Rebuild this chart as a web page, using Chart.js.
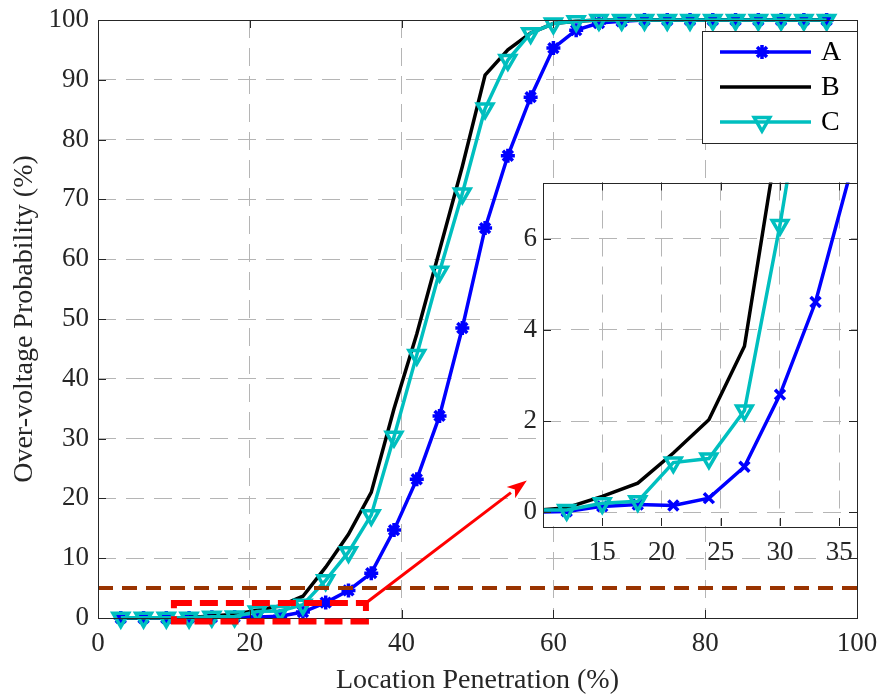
<!DOCTYPE html>
<html>
<head>
<meta charset="utf-8">
<script src="https://cdn.jsdelivr.net/npm/chart.js@4.4.0/dist/chart.umd.min.js"></script>
<style>
    html, body { margin: 0; padding: 0; background: #fff; }
    #wrap { position: relative; width: 879px; height: 697px; overflow: hidden; }
    #mainChart { position: absolute; left: 0; top: 0; }
    #insetChart { position: absolute; left: 500px; top: 170px; }
</style>
</head>
<body>
<div id="wrap">
    <canvas id="mainChart" width="879" height="697"></canvas>
    <canvas id="insetChart" width="370" height="400"></canvas>
</div>
<script>
// Location penetration (%) sampled every 3 %
const penetration = [3, 6, 9, 12, 15, 18, 21, 24, 27, 30, 33, 36, 39, 42, 45, 48,
                     51, 54, 57, 60, 63, 66, 69, 72, 75, 78, 81, 84, 87, 90, 93, 96];

// Over-voltage probability (%)
const probA = [0, 0, 0, 0.02, 0.13, 0.17, 0.15, 0.31, 1.0, 2.58, 4.61, 7.5, 14.7, 23.2, 33.8, 48.5,
               65.2, 77.3, 87.1, 95.3, 98.3, 99.5, 99.8, 100, 100, 100, 100, 100, 100, 100, 100, 100];
const probB = [0, 0, 0.03, 0.1, 0.35, 0.64, 1.3, 2.03, 3.64, 8.5, 14, 21, 35, 47.5, 61.5, 75.5,
               90.8, 95, 97.8, 99.4, 99.8, 100, 100, 100, 100, 100, 100, 100, 100, 100, 100, 100];
const probC = [0.05, 0.05, 0.05, 0.05, 0.2, 0.24, 1.09, 1.18, 2.23, 6.3, 11, 17.2, 30.3, 44, 57.9, 71,
               85.2, 93.3, 97.8, 99.4, 99.8, 100, 100, 100, 100, 100, 100, 100, 100, 100, 100, 100];

const threshold = 5;

const mainXTicks = [0, 20, 40, 60, 80, 100];
const mainYTicks = [0, 10, 20, 30, 40, 50, 60, 70, 80, 90, 100];
const insetXTicks = [15, 20, 25, 30, 35];
const insetYTicks = [0, 2, 4, 6];

// zoom annotation (data units)
const zoomBox = { x0: 10, x1: 35.3, y0: -0.6, y1: 2.5 };
const arrowTip = { x: 56.5, y: 23 };

const BLUE = '#0000ff';
const BLACK = '#000000';
const CYAN = '#00bfbf';
const BROWN = '#993300';
const RED = '#ff0000';
const AXIS = '#262626';
const GRID = '#b5b5b5';
const FONT = "'Liberation Serif', 'Times New Roman', serif";

const pts = (ys) => penetration.map((x, i) => ({ x: x, y: ys[i] }));

// fixed axis sizes, no extra room for the end labels
const fitX = (h) => (s) => { s.height = h; s.paddingLeft = 0; s.paddingRight = 0; };
const fitY = (w) => (s) => { s.width = w; s.paddingTop = 0; s.paddingBottom = 0; };

// white plot background, box and inward ticks like matlab
const boxPlugin = {
    id: 'mbox',
    beforeDraw(chart, args, opts) {
        if (!opts.fill) return;
        const a = chart.chartArea, ctx = chart.ctx;
        ctx.save();
        ctx.fillStyle = '#fff';
        ctx.fillRect(a.left, a.top, a.right - a.left, a.bottom - a.top);
        ctx.restore();
    },
    afterDatasetsDraw(chart) {
        const a = chart.chartArea, ctx = chart.ctx;
        const tl = 8;
        ctx.save();
        ctx.strokeStyle = AXIS;
        ctx.lineWidth = 1;
        ctx.setLineDash([]);
        ctx.beginPath();
        chart.scales.x.ticks.forEach(t => {
            const px = Math.round(chart.scales.x.getPixelForValue(t.value)) + 0.5;
            ctx.moveTo(px, a.bottom); ctx.lineTo(px, a.bottom - tl);
            ctx.moveTo(px, a.top); ctx.lineTo(px, a.top + tl);
        });
        chart.scales.y.ticks.forEach(t => {
            const py = Math.round(chart.scales.y.getPixelForValue(t.value)) + 0.5;
            ctx.moveTo(a.left, py); ctx.lineTo(a.left + tl, py);
            ctx.moveTo(a.right, py); ctx.lineTo(a.right - tl, py);
        });
        ctx.stroke();
        ctx.strokeRect(Math.round(a.left) + 0.5, Math.round(a.top) + 0.5,
                       Math.round(a.right - a.left), Math.round(a.bottom - a.top));
        ctx.restore();
    }
};

// red dashed zoom box and arrow pointing at the inset
const zoomPlugin = {
    id: 'zoomMark',
    afterDatasetsDraw(chart) {
        const ctx = chart.ctx, sx = chart.scales.x, sy = chart.scales.y;
        const x0 = sx.getPixelForValue(zoomBox.x0), x1 = sx.getPixelForValue(zoomBox.x1);
        const y0 = sy.getPixelForValue(zoomBox.y0), y1 = sy.getPixelForValue(zoomBox.y1);
        const tx = sx.getPixelForValue(arrowTip.x), ty = sy.getPixelForValue(arrowTip.y);
        ctx.save();
        ctx.strokeStyle = RED;
        ctx.lineWidth = 6;
        ctx.setLineDash([18, 8]);
        ctx.strokeRect(x0, y1, x1 - x0, y0 - y1);
        ctx.setLineDash([]);
        ctx.lineWidth = 3;
        const ang = Math.atan2(ty - y1, tx - x1);
        const hl = 20;
        const bx = tx - hl * Math.cos(ang), by = ty - hl * Math.sin(ang);
        ctx.beginPath();
        ctx.moveTo(x1, y1);
        ctx.lineTo(bx, by);
        ctx.stroke();
        ctx.fillStyle = RED;
        ctx.beginPath();
        ctx.moveTo(tx, ty);
        ctx.lineTo(bx + 7 * Math.sin(ang), by - 7 * Math.cos(ang));
        ctx.lineTo(tx - 0.75 * hl * Math.cos(ang), ty - 0.75 * hl * Math.sin(ang));
        ctx.lineTo(bx - 7 * Math.sin(ang), by + 7 * Math.cos(ang));
        ctx.closePath();
        ctx.fill();
        ctx.restore();
    }
};

const legendPlugin = {
    id: 'boxLegend',
    afterDraw(chart) {
        const ctx = chart.ctx;
        const L = 702, T = 31, W = 155, H = 112;
        ctx.save();
        ctx.fillStyle = '#fff';
        ctx.fillRect(L, T, W, H);
        ctx.strokeStyle = AXIS;
        ctx.lineWidth = 1;
        ctx.strokeRect(L + 0.5, T + 0.5, W, H);
        chart.data.datasets.filter(d => d.inLegend).forEach((d, i) => {
            const y = T + 21 + i * 35;
            ctx.strokeStyle = d.borderColor;
            ctx.lineWidth = d.borderWidth;
            ctx.beginPath();
            ctx.moveTo(L + 18, y);
            ctx.lineTo(L + 109, y);
            ctx.stroke();
            if (d.pointRadius > 0) {
                ctx.fillStyle = d.pointBackgroundColor;
                ctx.strokeStyle = d.pointBorderColor;
                ctx.lineWidth = d.pointBorderWidth;
                Chart.helpers.drawPoint(ctx, {
                    pointStyle: d.pointStyle, radius: d.pointRadius,
                    rotation: d.pointRotation || 0, borderWidth: d.pointBorderWidth
                }, L + 60, y);
            }
            ctx.fillStyle = '#000';
            ctx.font = '28px ' + FONT;
            ctx.textBaseline = 'middle';
            ctx.fillText(d.label, L + 119, y + 1);
        });
        ctx.restore();
    }
};

function gridOpts() {
    return {
        grid: { color: GRID, lineWidth: 1, drawTicks: false, borderDash: [18, 10] },
        border: { display: false, dash: [18, 10] }
    };
}

new Chart(document.getElementById('mainChart'), {
    type: 'line',
    data: {
        datasets: [
            {
                label: 'A', inLegend: true, data: pts(probA), order: 3,
                borderColor: BLUE, borderWidth: 3.5, clip: false,
                pointStyle: 'star', pointRadius: 7, pointBorderWidth: 3.5,
                pointBackgroundColor: BLUE, pointBorderColor: BLUE
            },
            {
                label: 'B', inLegend: true, data: pts(probB), order: 2,
                borderColor: BLACK, borderWidth: 3.5, clip: false, pointRadius: 0
            },
            {
                label: 'C', inLegend: true, data: pts(probC), order: 1,
                borderColor: CYAN, borderWidth: 3.5, clip: false,
                pointStyle: 'triangle', pointRotation: 180, pointRadius: 9, pointBorderWidth: 3.5,
                pointBackgroundColor: 'rgba(0,0,0,0)', pointBorderColor: CYAN
            },
            {
                label: 'limit', inLegend: false, order: 0,
                data: [{ x: 0, y: threshold }, { x: 100, y: threshold }],
                borderColor: BROWN, borderWidth: 4, borderDash: [15, 9], pointRadius: 0
            }
        ]
    },
    options: {
        responsive: false,
        devicePixelRatio: 1,
        animation: false,
        layout: { padding: { top: 20, right: 22, left: 0, bottom: 0 } },
        plugins: { legend: { display: false }, tooltip: { enabled: false }, mbox: { fill: false } },
        scales: {
            x: {
                type: 'linear', min: 0, max: 100,
                afterBuildTicks: s => { s.ticks = mainXTicks.map(v => ({ value: v })); },
                afterFit: fitX(79),
                ticks: { color: AXIS, padding: 10, maxRotation: 0, font: { family: FONT, size: 27 } },
                title: { display: true, text: 'Location Penetration (%)', color: AXIS,
                         padding: { top: 0, bottom: 0 }, font: { family: FONT, size: 28 } },
                ...gridOpts()
            },
            y: {
                type: 'linear', min: 0, max: 100,
                afterBuildTicks: s => { s.ticks = mainYTicks.map(v => ({ value: v })); },
                afterFit: fitY(98),
                ticks: { color: AXIS, padding: 9, font: { family: FONT, size: 27 } },
                title: { display: true, text: 'Over-voltage Probability (%)', color: AXIS,
                         padding: { top: 8, bottom: 0 }, font: { family: FONT, size: 28 } },
                ...gridOpts()
            }
        }
    },
    plugins: [boxPlugin, zoomPlugin, legendPlugin]
});

new Chart(document.getElementById('insetChart'), {
    type: 'line',
    data: {
        datasets: [
            {
                label: 'A', data: pts(probA), order: 3,
                borderColor: BLUE, borderWidth: 3.5,
                pointStyle: 'crossRot', pointRadius: 7, pointBorderWidth: 3.5,
                pointBackgroundColor: BLUE, pointBorderColor: BLUE
            },
            {
                label: 'B', data: pts(probB), order: 2,
                borderColor: BLACK, borderWidth: 3.5, pointRadius: 0
            },
            {
                label: 'C', data: pts(probC), order: 1,
                borderColor: CYAN, borderWidth: 3.5,
                pointStyle: 'triangle', pointRotation: 180, pointRadius: 9, pointBorderWidth: 3.5,
                pointBackgroundColor: 'rgba(0,0,0,0)', pointBorderColor: CYAN
            }
        ]
    },
    options: {
        responsive: false,
        devicePixelRatio: 1,
        animation: false,
        layout: { padding: { top: 10, right: 13, left: 0, bottom: 0 } },
        plugins: { legend: { display: false }, tooltip: { enabled: false }, mbox: { fill: true } },
        scales: {
            x: {
                type: 'linear', min: 10, max: 36.5,
                afterBuildTicks: s => { s.ticks = insetXTicks.map(v => ({ value: v })); },
                afterFit: fitX(44),
                ticks: { color: AXIS, padding: 11, maxRotation: 0, font: { family: FONT, size: 27 } },
                ...gridOpts()
            },
            y: {
                type: 'linear', min: -0.3, max: 7.23,
                afterBuildTicks: s => { s.ticks = insetYTicks.map(v => ({ value: v })); },
                afterFit: fitY(43),
                ticks: { color: AXIS, padding: 6, font: { family: FONT, size: 27 } },
                ...gridOpts()
            }
        }
    },
    plugins: [boxPlugin]
});
</script>
</body>
</html>
